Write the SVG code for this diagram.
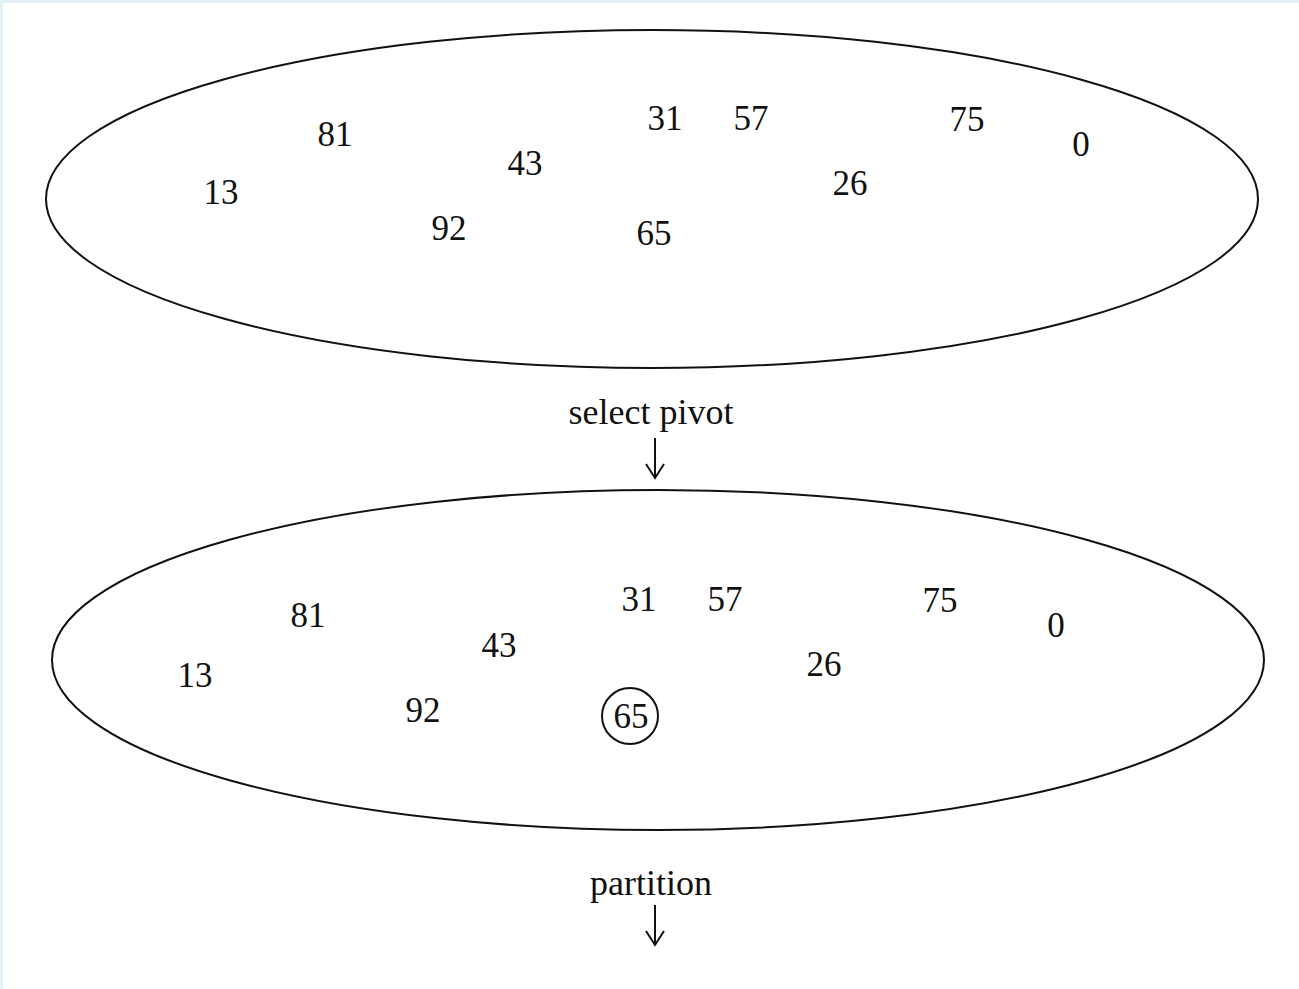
<svg xmlns="http://www.w3.org/2000/svg" width="1299" height="989" viewBox="0 0 1299 989">
  <style>
    .set { fill: none; stroke: #111; stroke-width: 2; }
    .num { font-family: "Liberation Serif", "Times New Roman", serif; font-size: 35px; fill: #111; text-anchor: middle; }
    .lbl { font-family: "Liberation Serif", "Times New Roman", serif; font-size: 36px; fill: #111; text-anchor: middle; }
    .arrow { fill: none; stroke: #111; stroke-width: 2; }
  </style>
  <rect width="1299" height="989" fill="#ffffff"/>
  <!-- thin frame along the top and left edges -->
  <rect x="0" y="0" width="1299" height="3" fill="#e2f1f5"/>
  <rect x="0" y="0" width="3" height="989" fill="#e2f1f5"/>

  <!-- unsorted input set -->
  <g id="set-input">
    <ellipse class="set" cx="652" cy="199" rx="606" ry="169"/>
    <text class="num" x="335" y="146">81</text>
    <text class="num" x="221" y="204">13</text>
    <text class="num" x="525" y="175">43</text>
    <text class="num" x="449" y="240">92</text>
    <text class="num" x="665" y="130">31</text>
    <text class="num" x="751" y="130">57</text>
    <text class="num" x="967" y="131">75</text>
    <text class="num" x="1081" y="156">0</text>
    <text class="num" x="850" y="195">26</text>
    <text class="num" x="654" y="245">65</text>
  </g>

  <!-- same set with the pivot marked -->
  <g id="set-pivot">
    <ellipse class="set" cx="658" cy="660" rx="606" ry="170"/>
    <text class="num" x="308" y="627">81</text>
    <text class="num" x="195" y="687">13</text>
    <text class="num" x="499" y="657">43</text>
    <text class="num" x="423" y="722">92</text>
    <text class="num" x="639" y="611">31</text>
    <text class="num" x="725" y="611">57</text>
    <text class="num" x="940" y="612">75</text>
    <text class="num" x="1056" y="637">0</text>
    <text class="num" x="824" y="676">26</text>
    <text class="num" x="631" y="728">65</text>
    <circle class="set" cx="630" cy="716" r="28"/>
  </g>

  <!-- step labels and arrows -->
  <g id="connectors">
    <g id="step-select">
      <text class="lbl" x="651" y="424">select pivot</text>
      <path class="arrow" d="M655 438 V477 M646 464 L655 478 L664 464"/>
    </g>
    <g id="step-partition">
      <text class="lbl" x="651" y="895">partition</text>
      <path class="arrow" d="M655 905 V944 M646 931 L655 945 L664 931"/>
    </g>
  </g>
</svg>
